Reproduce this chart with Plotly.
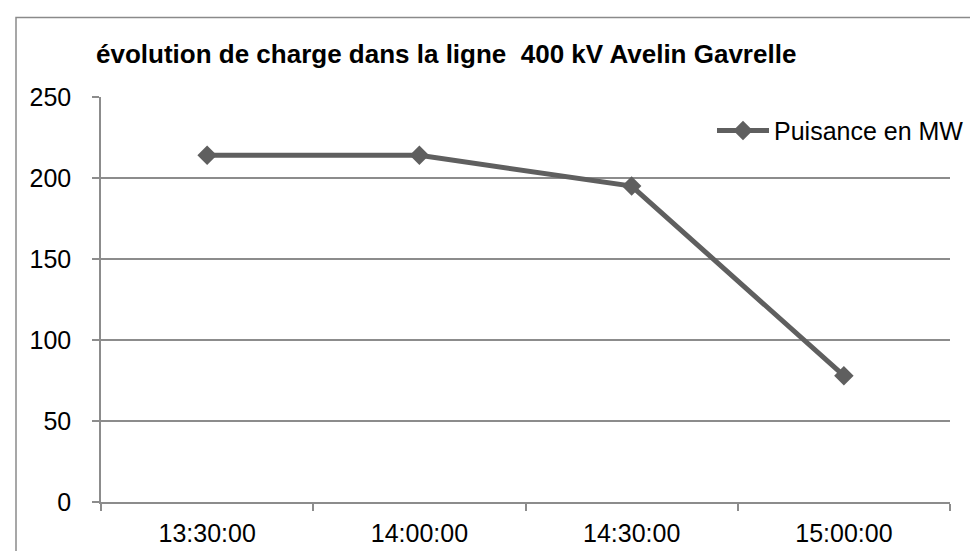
import plotly.graph_objects as go

categories = ["13:30:00", "14:00:00", "14:30:00", "15:00:00"]
puissance_mw = [214, 214, 195, 78]
series_name = "Puisance en MW"
title_text = "évolution de charge dans la ligne\u00a0 400 kV Avelin Gavrelle"
y_ticks = [0, 50, 100, 150, 200, 250]

FONT = "Liberation Sans, Arial, sans-serif"
GRID = "#8c8c8c"
LINE = "#5f5f5f"

fig = go.Figure()
fig.add_trace(go.Scatter(
    x=categories, y=puissance_mw, name=series_name,
    mode="lines+markers",
    line=dict(color=LINE, width=5),
    marker=dict(symbol="diamond", size=15, color=LINE),
))

W, H = 978, 551
L, R, T, B = 93, 36, 89, 54
pw = W - L - R
ph = H - T - B

fig.update_layout(
    width=W, height=H,
    margin=dict(l=L, r=R, t=T, b=B, pad=0),
    paper_bgcolor="white", plot_bgcolor="white",
    font=dict(family=FONT, size=25, color="black"),
    title=dict(text="<b>" + title_text + "</b>", x=88 / W, xanchor="left",
               xref="container",
               y=1 - 46 / H, yanchor="middle", yref="container",
               font=dict(family=FONT, size=26, color="black")),
    showlegend=True,
    legend=dict(x=(704 - L) / pw, xanchor="left",
                y=1 - (123 - T) / ph, yanchor="middle",
                bgcolor="rgba(0,0,0,0)", borderwidth=0,
                font=dict(family=FONT, size=25, color="black"),
                itemwidth=52),
    xaxis=dict(type="category", range=[-0.5, 3.5], tickson="boundaries",
               ticks="outside", ticklen=7, tickcolor=GRID, tickwidth=1.5,
               showline=True, linecolor=GRID, linewidth=1.5,
               showgrid=False, zeroline=False,
               tickfont=dict(family=FONT, size=25, color="black"),
               ticklabelstandoff=8),
    yaxis=dict(range=[0, 250], tickvals=y_ticks,
               ticks="outside", ticklen=7, tickcolor=GRID, tickwidth=1.5,
               showline=True, linecolor=GRID, linewidth=1.5,
               showgrid=True, gridcolor=GRID, gridwidth=1.5,
               zeroline=False,
               tickfont=dict(family=FONT, size=25, color="black"),
               ticklabelstandoff=16),
    shapes=[dict(type="rect", xref="paper", yref="paper",
                 x0=(8 - L) / pw, x1=(974 - L) / pw,
                 y0=(T + ph - 600) / ph, y1=(T + ph - 9) / ph,
                 line=dict(color="#8a8a8a", width=1.5), fillcolor="rgba(0,0,0,0)",
                 layer="below")],
)

fig.write_html("out.html")
